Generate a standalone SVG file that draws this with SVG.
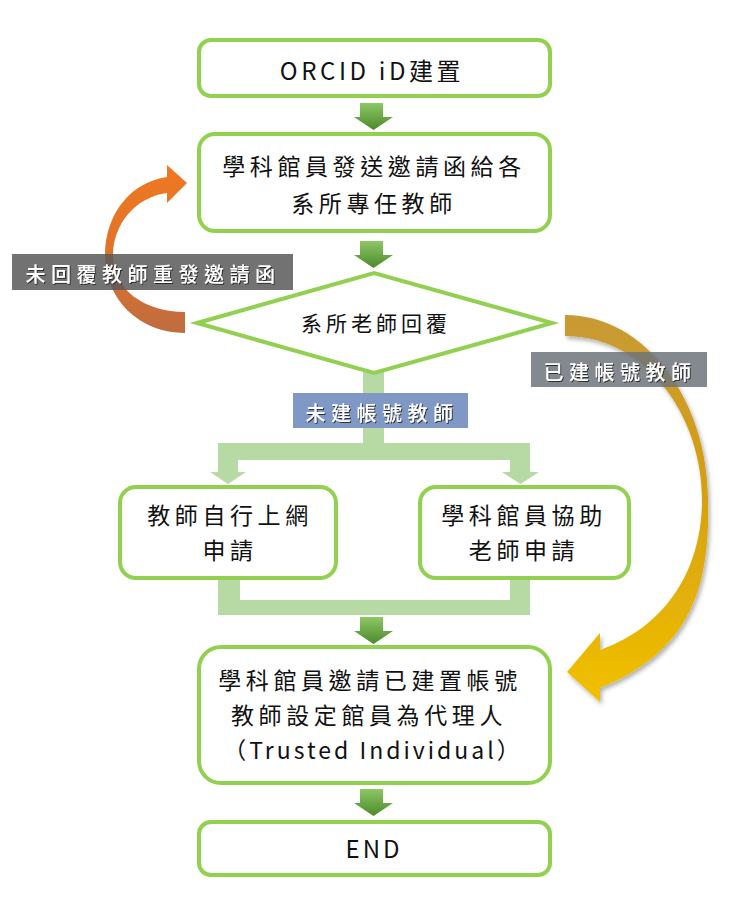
<svg xmlns="http://www.w3.org/2000/svg" width="737" height="916" viewBox="0 0 737 916">
<style>
.box{fill:#fff;stroke:#92D050;stroke-width:4}
.t{font-family:"Noto Sans CJK TC","Noto Sans",sans-serif;font-size:23px;fill:#111;text-anchor:middle;letter-spacing:4.6px}
.lbl{font-family:"Noto Sans CJK TC","Noto Sans",sans-serif;font-size:20px;fill:#fff;text-anchor:middle;letter-spacing:5.5px;font-weight:500;filter:url(#ts)}
.conn{fill:#B7D9A3}
</style>
<defs>
<linearGradient id="gA" x1="0" y1="0" x2="0" y2="1">
<stop offset="0" stop-color="#8FC765"/><stop offset="1" stop-color="#4A8A2A"/>
</linearGradient>
<linearGradient id="gO" x1="0" y1="165" x2="0" y2="332" gradientUnits="userSpaceOnUse">
<stop offset="0" stop-color="#F07820"/><stop offset="0.5" stop-color="#E0742A"/><stop offset="1" stop-color="#BF6C40"/>
</linearGradient>
<linearGradient id="gY" x1="0" y1="315" x2="0" y2="702" gradientUnits="userSpaceOnUse">
<stop offset="0" stop-color="#C89A35"/><stop offset="0.45" stop-color="#D4A010"/><stop offset="1" stop-color="#F2C000"/>
</linearGradient>
<filter id="ts" x="-10%" y="-30%" width="120%" height="160%">
<feDropShadow dx="1" dy="1" stdDeviation="0.6" flood-color="#222" flood-opacity="0.9"/>
</filter>
<filter id="sh" x="-20%" y="-10%" width="140%" height="120%">
<feDropShadow dx="2" dy="3" stdDeviation="2" flood-color="#000" flood-opacity="0.3"/>
</filter>
<path id="ga" d="M6,0 H29 V14 H39 L19.5,27 L0,14 H6 Z" fill="url(#gA)"/>
</defs>
<rect width="737" height="916" fill="#fff"/>

<g id="connectors">
<use href="#ga" x="354" y="103"/>
<use href="#ga" x="354" y="241"/>
<use href="#ga" x="354" y="617"/>
<use href="#ga" x="354" y="789"/>
<path class="conn" d="M363,372 H384 V443 H530 V472 H539 L520.5,484 L502,472 H510 V460 H238 V472 H246 L228,484 L210,472 H218 V443 H363 Z"/>
<path class="conn" d="M218,578 H240 V600 H510 V578 H530 V615 H218 Z"/>
<path fill="url(#gO)" d="M185,333 C140,333 105,300 105,255 C105,215 130,182 167,177 L167,165 L187,183 L167,203 L167,193 C135,197 113,225 113,255 C113,290 145,312 185,312 Z"/>
<path fill="url(#gY)" filter="url(#sh)" d="M565,315 C645,315 708,400 708,500 C710,580 695,650 600,688 L600,702 L567,672 L600,633 L600,650 C670,625 702,565 702,500 C702,415 645,336 565,336 Z"/>
</g>

<g id="n1"><rect class="box" x="199" y="40" width="351" height="56" rx="12"/>
<text class="t" x="372" y="80" style="font-size:24px;letter-spacing:3.6px">ORCID iD建置</text></g>

<g id="n2"><rect class="box" x="199" y="134" width="351" height="97" rx="16"/>
<text class="t" x="374" y="175">學科館員發送邀請函給各</text>
<text class="t" x="374" y="212">系所專任教師</text></g>

<g id="n3"><polygon class="box" points="197,323 374,273 552,323 374,373"/>
<text class="t" x="376" y="331" style="font-size:21px;letter-spacing:4px">系所老師回覆</text></g>

<g id="n4"><rect class="box" x="120" y="487" width="216" height="91" rx="16"/>
<text class="t" x="230" y="524">教師自行上網</text>
<text class="t" x="230" y="559">申請</text></g>

<g id="n5"><rect class="box" x="420" y="487" width="209" height="91" rx="16"/>
<text class="t" x="524" y="524">學科館員協助</text>
<text class="t" x="524" y="559">老師申請</text></g>

<g id="n6"><rect class="box" x="199" y="647" width="351" height="136" rx="22"/>
<text class="t" x="370" y="689">學科館員邀請已建置帳號</text>
<text class="t" x="369" y="724">教師設定館員為代理人</text>
<text class="t" x="373" y="759" style="letter-spacing:3px">（Trusted Individual）</text></g>

<g id="n7"><rect class="box" x="199" y="822" width="351" height="53" rx="12"/>
<text class="t" x="374" y="858" style="font-size:24px;letter-spacing:3px">END</text></g>

<g id="labels">
<rect x="12" y="254" width="281" height="36" fill="#595959" fill-opacity="0.85"/>
<text class="lbl" x="153" y="282">未回覆教師重發邀請函</text>
<rect x="531" y="352" width="176" height="35" fill="#6F747B" fill-opacity="0.85"/>
<text class="lbl" x="620" y="380">已建帳號教師</text>
<rect x="293" y="393" width="175" height="35" fill="#7F98C6"/>
<text class="lbl" x="382" y="421">未建帳號教師</text>
</g>
</svg>
